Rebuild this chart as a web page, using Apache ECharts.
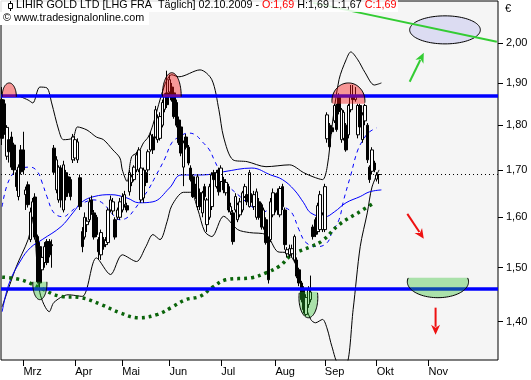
<!DOCTYPE html>
<html><head><meta charset="utf-8">
<script src="https://cdn.jsdelivr.net/npm/echarts@6/dist/echarts.min.js"></script>
<style>html,body{margin:0;padding:0;background:#fff}#c{width:531px;height:380px}</style>
</head><body><div id="c"></div>
<script>
// ---------- categories (trading days, Frankfurt) ----------
const startDate = '2009-02-17';
const holidays = ['2009-04-10','2009-04-13','2009-05-01','2009-12-24','2009-12-25'];
const totalSlots = 211;
const monthNames = ['Jan','Feb','Mrz','Apr','Mai','Jun','Jul','Aug','Sep','Okt','Nov','Dez'];
const shownMonths = ['Mrz','Apr','Mai','Jun','Jul','Aug','Sep','Okt','Nov'];
const yTicks = [1.4,1.5,1.6,1.7,1.8,1.9,2.0];

// ---------- candles: open / close / low / high ----------
const opens = [1.86,1.85,1.73,1.767,1.773,1.755,1.694,1.643,1.744,1.744,1.647,1.668,1.555,1.60,1.642,1.561,1.541,1.496,1.51,1.551,1.551,1.545,
1.748,1.657,1.636,1.704,1.615,1.694,1.685,1.679,1.722,1.726,1.722,1.683,1.571,1.56,1.585,1.595,1.636,1.609,1.60,1.555,1.525,1.555,1.545,1.549,
1.615,1.613,1.595,1.60,1.60,1.615,1.626,1.624,1.653,1.673,1.679,1.70,1.70,1.636,1.64,1.694,1.70,1.744,1.773,1.773,1.767,1.77,1.80,1.837,
1.876,1.878,1.89,1.876,1.853,1.812,1.796,1.706,1.773,1.75,1.704,1.685,1.664,1.622,1.651,1.609,1.664,1.585,1.60,1.622,1.694,1.664,1.70,1.675,
1.679,1.651,1.664,1.611,1.609,1.615,1.595,1.605,1.615,1.643,1.647,1.622,1.643,1.622,1.60,1.632,1.626,1.58,1.595,1.555,1.555,1.605,1.643,1.651,
1.605,1.664,1.615,1.527,1.525,1.527,1.515,1.515,1.496,1.471,1.458,1.413,1.431,1.44,1.58,1.595,1.571,1.575,1.575,1.575,1.769,1.80,1.794,1.81,
1.845,1.867,1.767,1.77,1.80,1.778,1.836,1.865,1.86,1.778,1.846,1.767,1.81,1.80,1.706,1.697,1.715,1.68,1.69];
const closes = [1.77,1.785,1.795,1.74,1.706,1.70,1.664,1.706,1.696,1.70,1.657,1.626,1.611,1.632,1.56,1.473,1.471,1.52,1.541,1.51,1.525,1.543,
1.695,1.722,1.706,1.636,1.711,1.643,1.651,1.643,1.773,1.767,1.762,1.622,1.541,1.60,1.592,1.632,1.61,1.56,1.565,1.531,1.569,1.541,1.553,1.615,
1.636,1.632,1.56,1.615,1.632,1.643,1.647,1.615,1.694,1.685,1.706,1.733,1.744,1.704,1.70,1.673,1.74,1.778,1.744,1.836,1.817,1.82,1.853,1.867,
1.848,1.908,1.859,1.82,1.80,1.76,1.737,1.76,1.75,1.715,1.679,1.643,1.643,1.685,1.622,1.651,1.643,1.636,1.664,1.689,1.679,1.694,1.653,1.704,
1.657,1.673,1.615,1.622,1.551,1.643,1.626,1.632,1.651,1.664,1.632,1.694,1.634,1.647,1.653,1.60,1.58,1.615,1.549,1.477,1.632,1.651,1.615,1.615,
1.66,1.622,1.545,1.535,1.537,1.537,1.561,1.484,1.471,1.44,1.422,1.444,1.458,1.454,1.561,1.565,1.624,1.647,1.605,1.664,1.824,1.751,1.785,1.846,
1.79,1.832,1.836,1.83,1.744,1.846,1.867,1.86,1.867,1.846,1.796,1.824,1.846,1.722,1.679,1.744,1.70,1.689,1.69];
const lows = [1.755,1.778,1.722,1.716,1.70,1.69,1.655,1.635,1.69,1.69,1.615,1.62,1.55,1.595,1.555,1.47,1.458,1.49,1.50,1.505,1.52,1.50,
1.69,1.65,1.63,1.62,1.61,1.635,1.645,1.635,1.715,1.72,1.715,1.615,1.53,1.555,1.57,1.59,1.605,1.555,1.56,1.515,1.515,1.535,1.54,1.545,
1.61,1.605,1.555,1.595,1.595,1.61,1.62,1.61,1.645,1.665,1.675,1.695,1.695,1.63,1.63,1.665,1.695,1.74,1.735,1.77,1.76,1.765,1.795,1.83,
1.84,1.87,1.855,1.815,1.795,1.755,1.73,1.665,1.745,1.71,1.675,1.64,1.638,1.615,1.615,1.60,1.635,1.57,1.595,1.615,1.675,1.66,1.645,1.67,
1.65,1.645,1.61,1.605,1.545,1.61,1.59,1.60,1.61,1.64,1.625,1.62,1.63,1.615,1.595,1.595,1.575,1.575,1.545,1.47,1.55,1.60,1.61,1.605,
1.60,1.615,1.535,1.52,1.52,1.52,1.51,1.48,1.465,1.435,1.415,1.41,1.425,1.435,1.555,1.56,1.565,1.57,1.57,1.57,1.76,1.745,1.78,1.805,
1.785,1.825,1.76,1.765,1.74,1.77,1.83,1.855,1.855,1.77,1.79,1.76,1.80,1.715,1.672,1.69,1.695,1.675,1.67];
const highs = [1.89,1.86,1.80,1.778,1.785,1.76,1.70,1.712,1.755,1.785,1.664,1.675,1.62,1.64,1.65,1.565,1.55,1.535,1.55,1.556,1.556,1.555,
1.755,1.73,1.71,1.71,1.72,1.70,1.69,1.685,1.78,1.775,1.77,1.69,1.58,1.61,1.60,1.64,1.645,1.615,1.605,1.56,1.575,1.56,1.56,1.62,
1.645,1.64,1.60,1.62,1.64,1.65,1.655,1.63,1.70,1.69,1.71,1.74,1.75,1.71,1.705,1.70,1.745,1.785,1.78,1.845,1.825,1.83,1.86,1.875,
1.93,1.92,1.90,1.885,1.86,1.82,1.80,1.765,1.78,1.755,1.71,1.69,1.67,1.69,1.66,1.655,1.67,1.64,1.67,1.695,1.70,1.70,1.705,1.71,
1.685,1.68,1.67,1.63,1.615,1.65,1.63,1.64,1.655,1.67,1.65,1.70,1.65,1.655,1.66,1.64,1.63,1.62,1.60,1.56,1.64,1.66,1.65,1.66,
1.665,1.67,1.62,1.54,1.545,1.545,1.565,1.52,1.50,1.475,1.465,1.45,1.465,1.485,1.585,1.60,1.63,1.655,1.61,1.67,1.83,1.805,1.80,1.85,
1.85,1.875,1.84,1.835,1.805,1.85,1.895,1.895,1.89,1.85,1.85,1.83,1.85,1.805,1.71,1.75,1.72,1.695,1.69];

// ---------- indicator lines: [trading-day index, value] ----------
const upperBand = [[6.3,1.871],[10.5,1.859],[12.6,1.852],[16,1.89],[19.4,1.888],[21.1,1.852],[23.7,1.789],[25.8,1.767],[29.6,1.771],
[31.7,1.796],[36.4,1.789],[39.8,1.773],[43.2,1.767],[47,1.744],[49.5,1.726],[51.2,1.70],[52.5,1.675],[54.6,1.729],[57.6,1.74],[59.7,1.76],
[62.3,1.773],[64.4,1.801],[69,1.895],[72,1.92],[75.4,1.915],[83.9,1.932],[89.4,1.908],[91.5,1.836],[93.6,1.773],[97.9,1.722],[103.8,1.718],
[112.3,1.707],[122.1,1.711],[127.6,1.694],[131.8,1.685],[136.1,1.679],[138.2,1.707],[140.3,1.796],[143.3,1.908],[146.2,1.957],[148.4,1.977],
[150.5,1.957],[154.3,1.926],[157.7,1.895],[160.7,1.90]];
const lowerBand = [[0,1.427],[6.3,1.502],[10.5,1.555],[12.6,1.595],[16,1.453],[20.3,1.418],[22.4,1.435],[27.5,1.449],[34.3,1.446],
[40.2,1.519],[45.7,1.487],[51.2,1.525],[57.2,1.512],[61.4,1.541],[64,1.565],[66.5,1.555],[69.9,1.591],[72,1.624],[77.1,1.652],[79.7,1.652],
[82.6,1.617],[85.6,1.571],[89,1.561],[93.6,1.602],[99.6,1.575],[105.1,1.569],[112.3,1.565],[116.5,1.531],[120.8,1.529],[125,1.502],
[128.4,1.44],[130.5,1.404],[132.7,1.398],[136.1,1.404],[138.2,1.387],[140.3,1.356],[143.3,1.326],[146.2,1.326],[148.8,1.422],[151.7,1.541],
[154.7,1.609],[156.8,1.663],[159.8,1.70]];
const maSlow = [[0,1.418],[3.3,1.471],[7.6,1.515],[11.8,1.539],[17.3,1.555],[24.5,1.581],[30,1.609],[34.3,1.632],[38.5,1.643],[45.7,1.647],
[52.9,1.64],[58.4,1.63],[64,1.632],[70.7,1.661],[76.3,1.689],[84.7,1.689],[93.6,1.696],[106.4,1.704],[114,1.689],[119.1,1.679],[124.2,1.657],
[128.4,1.63],[131.4,1.609],[136.5,1.601],[140.7,1.611],[146.2,1.63],[152.2,1.643],[156.4,1.653],[160.7,1.657]];
const maFast = [[0,1.622],[3.3,1.679],[7.6,1.704],[11.8,1.706],[15.2,1.696],[17.3,1.672],[19.4,1.643],[22.4,1.609],[25.8,1.601],[28.8,1.611],
[33,1.626],[38.5,1.636],[42.8,1.628],[45.7,1.611],[49.5,1.595],[52.5,1.599],[55.5,1.615],[59.7,1.643],[62.3,1.657],[65.2,1.685],[69.1,1.724],
[72,1.76],[75,1.773],[79.2,1.782],[81.8,1.778],[84.7,1.762],[87.7,1.744],[89.8,1.722],[95.3,1.672],[101.3,1.643],[105.5,1.622],[109.8,1.609],
[112.7,1.615],[117,1.622],[120.4,1.62],[123.3,1.609],[126.3,1.575],[129.3,1.549],[133.5,1.541],[137.8,1.549],[140.3,1.569],[143.3,1.595],
[145.4,1.636],[148.4,1.689],[150.9,1.744],[153.5,1.773],[156.4,1.785],[159.4,1.794]];
const maLong = [[0,1.482],[7.6,1.477],[16,1.462],[24.5,1.446],[33,1.444],[41.5,1.431],[50,1.416],[58.4,1.407],[65.7,1.413],[72.4,1.426],
[78.4,1.44],[83.9,1.446],[89.4,1.462],[95.3,1.477],[106.4,1.481],[112.3,1.49],[117.8,1.504],[123.3,1.525],[130.5,1.541],[136.1,1.553],
[143.3,1.585],[150.5,1.609],[158.1,1.63]];

// ---------- levels & drawings ----------
const resistance = 1.87, support = 1.455, lastClose = 1.69;
const trendLine = [[131.8,2.105],[210.3,2.0026]];
// [centerIndex, halfWidthIndex, centerValue, extremeValue, cutValue, kind(1 top,-1 bottom,0 full)]
const markShapes = [
  [2.9,3.4,1.868,1.900,1.866,1],
  [72.0,4.24,1.869,1.925,1.866,1],
  [146.9,7.4,1.857,1.900,1.850,1],
  [15.8,3.2,1.470,1.440,1.4733,-1],
  [130.1,4.24,1.4436,1.407,1.4546,-1],
  [184.6,13.8,1.4733,1.4436,1.4809,-1],
  [187.8,14.8,2.0335,2.0703,2.0335,0]
];
// [fromIndex, fromValue, toIndex, toValue, color(0 green,1 red)]
const arrows = [
  [172.5,1.903,178.9,1.9746,0],
  [172.1,1.607,178.5,1.5567,1],
  [184.4,1.4253,184.4,1.3767,1]
];

// ---------- build ----------
const dates = [];
(function(){
  let d = new Date(startDate + 'T00:00:00Z');
  while (dates.length < totalSlots) {
    const wd = d.getUTCDay();
    const s = d.toISOString().slice(0,10);
    if (wd !== 0 && wd !== 6 && holidays.indexOf(s) < 0) dates.push(s);
    d = new Date(d.getTime() + 86400000);
  }
})();
const monthOf = s => monthNames[parseInt(s.slice(5,7),10)-1];
const isMonthStart = (idx) => idx > 0 && dates[idx].slice(5,7) !== dates[idx-1].slice(5,7) && shownMonths.indexOf(monthOf(dates[idx])) >= 0;
const candleData = opens.map((o,i) => [o, closes[i], lows[i], highs[i]]);
const FONT = 'Liberation Sans';

function renderShape(params, api) {
  const ci = api.value(0), rw = api.value(1), cv = api.value(2), ev = api.value(3), cut = api.value(4), kind = api.value(5);
  const c = api.coord([ci, cv]);
  const rx = api.coord([ci + rw, cv])[0] - c[0];
  const ry = Math.abs(api.coord([ci, ev])[1] - c[1]);
  const cy = api.coord([ci, cut])[1];
  const N = 90, fill = [], curve = [];
  const t0 = kind === 1 ? -Math.PI/2 : Math.PI/2;
  for (let k = 0; k <= N; k++) {
    const t = t0 + 2*Math.PI*k/N;
    const x = c[0] + rx*Math.cos(t);
    let y = c[1] - ry*Math.sin(t), cl = false;
    if (kind === 1 && y > cy) { y = cy; cl = true; }
    if (kind === -1 && y < cy) { y = cy; cl = true; }
    fill.push([x,y]); if (!cl) curve.push([x,y]);
  }
  const col = kind === 1 ? 'rgba(250,20,20,0.42)' : kind === -1 ? 'rgba(40,190,40,0.36)' : '#dcdcf2';
  if (kind === 0) return {type:'polygon', shape:{points:fill}, style:{fill:col, stroke:'#000', lineWidth:1}};
  return {type:'group', children:[
    {type:'polygon', shape:{points:fill}, style:{fill:col}},
    {type:'polyline', shape:{points:curve}, style:{stroke:'#000', lineWidth:1, fill:null}}
  ]};
}
function renderArrow(params, api) {
  const p0 = api.coord([api.value(0), api.value(1)]);
  const p1 = api.coord([api.value(2), api.value(3)]);
  const col = api.value(4) === 0 ? '#33cc33' : '#ee1111';
  const dx = p1[0]-p0[0], dy = p1[1]-p0[1], L = Math.sqrt(dx*dx+dy*dy);
  const ux = dx/L, uy = dy/L, hl = 10, hw = 4.5;
  const b = [p1[0]-ux*hl, p1[1]-uy*hl];
  return {type:'group', children:[
    {type:'line', shape:{x1:p0[0], y1:p0[1], x2:b[0]+ux*2, y2:b[1]+uy*2}, style:{stroke:col, lineWidth:2}},
    {type:'polygon', shape:{points:[[p1[0],p1[1]],[b[0]-uy*hw,b[1]+ux*hw],[b[0]+ux*3,b[1]+uy*3],[b[0]+uy*hw,b[1]-ux*hw]]}, style:{fill:col}}
  ]};
}
const lineBase = {type:'line', symbol:'none', silent:true, z:2};
const chart = echarts.init(document.getElementById('c'), null, {renderer:'canvas'});
chart.setOption({
  animation:false,
  grid:{left:1, right:33, top:1, bottom:20, show:true, backgroundColor:'#f5f5f5', borderColor:'#000', borderWidth:1},
  xAxis:{type:'category', data:dates, boundaryGap:true, axisLine:{show:false}, splitLine:{show:false},
    axisTick:{show:true, alignWithLabel:true, interval:isMonthStart, length:6, lineStyle:{color:'#000'}},
    axisLabel:{interval:isMonthStart, formatter:v=>monthOf(v), align:'left', margin:6, color:'#000', fontSize:11, fontFamily:FONT}},
  yAxis:{type:'log', logBase:10, position:'right', min:1.333, max:2.11, splitLine:{show:false}, axisLine:{show:false},
    minorTick:{show:false},
    axisTick:{show:true, length:5, lineStyle:{color:'#000'}, customValues:yTicks},
    axisLabel:{customValues:yTicks, formatter:v=>Number(v).toFixed(2).replace('.',','), color:'#000', fontSize:11, fontFamily:FONT, margin:8}},
  series:[
    Object.assign({}, lineBase, {data:upperBand, smooth:0.3, lineStyle:{color:'#000', width:1}}),
    Object.assign({}, lineBase, {data:lowerBand, smooth:0.3, lineStyle:{color:'#000', width:1}}),
    Object.assign({}, lineBase, {data:maSlow, smooth:0.4, lineStyle:{color:'#0000ff', width:1}}),
    Object.assign({}, lineBase, {data:maFast, smooth:0.4, lineStyle:{color:'#0000ff', width:1, type:[4,4]}}),
    Object.assign({}, lineBase, {data:maLong, smooth:0.4, lineStyle:{color:'#0a640a', width:3.5, type:[3,4]}}),
    {type:'candlestick', data:candleData, barWidth:3, z:3, silent:true,
      itemStyle:{color:'#ffffff', color0:'#000000', borderColor:'#000000', borderColor0:'#000000', borderWidth:1},
      markLine:{silent:true, symbol:'none', label:{show:false}, animation:false,
        data:[
          {yAxis:lastClose, lineStyle:{color:'#000', width:1, type:[1,3]}},
          {yAxis:resistance, lineStyle:{color:'#0000ff', width:3.5, type:'solid'}},
          {yAxis:support, lineStyle:{color:'#0000ff', width:3.5, type:'solid'}}
        ]}},
    {type:'custom', data:markShapes, renderItem:renderShape, encode:{x:0, y:2}, clip:true, z:6, silent:true},
    Object.assign({}, lineBase, {data:trendLine, z:7, lineStyle:{color:'#33cc33', width:2}}),
    {type:'custom', data:arrows, renderItem:renderArrow, encode:{x:0, y:1}, z:7, silent:true}
  ],
  graphic:[
    {type:'rect', shape:{x:0, y:0, width:398, height:12}, style:{fill:'rgba(255,255,255,0.85)'}, z:100},
    {type:'rect', shape:{x:0, y:12, width:149, height:13}, style:{fill:'#fff'}, z:100},
    {type:'line', shape:{x1:10.5, y1:1, x2:10.5, y2:11}, style:{stroke:'#000', lineWidth:1}, z:101},
    {type:'rect', shape:{x:8.5, y:3.5, width:4, height:5}, style:{fill:'#fff', stroke:'#000', lineWidth:1}, z:102},
    {type:'text', x:16, y:0, z:101, style:{
      text:'{k|LIHIR GOLD LTD [LHG FRA  Täglich] 02.10.2009 - }{r|O:1,69}{k| H:1,69 L:1,67 }{r|C:1,69}',
      font:'10.75px ' + FONT, rich:{k:{fill:'#000', fontSize:10.75, fontFamily:FONT}, r:{fill:'#ff0000', fontSize:10.75, fontFamily:FONT}}}},
    {type:'text', x:3, y:13, z:101, style:{text:'© www.tradesignalonline.com', font:'10.75px ' + FONT, fill:'#000'}},
    {type:'text', x:505, y:3, z:101, style:{text:'€', font:'11px ' + FONT, fill:'#000'}}
  ]
});
</script></body></html>
